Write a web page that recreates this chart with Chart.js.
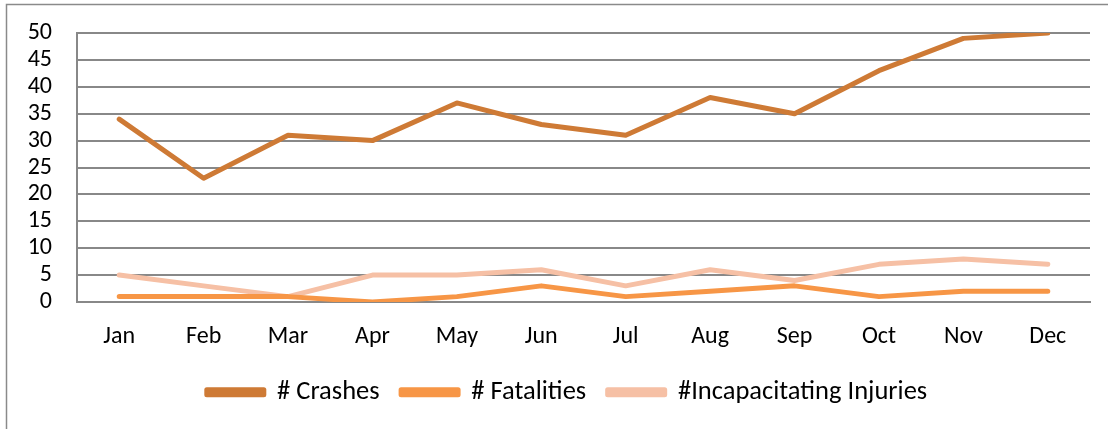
<!DOCTYPE html>
<html>
<head>
<meta charset="utf-8">
<script src="https://cdn.jsdelivr.net/npm/chart.js@4/dist/chart.umd.min.js"></script>
<style>
  html, body { margin: 0; padding: 0; background: #fff; }
  #wrap { width: 1108px; height: 429px; position: relative; }
</style>
</head>
<body>
<div id="wrap"><canvas id="chart" width="1108" height="429"></canvas></div>
<script>
// months on the x axis
var months = ['Jan', 'Feb', 'Mar', 'Apr', 'May', 'Jun', 'Jul', 'Aug', 'Sep', 'Oct', 'Nov', 'Dec'];
// series
var crashes = [34, 23, 31, 30, 37, 33, 31, 38, 35, 43, 49, 50];
var fatalities = [1, 1, 1, 0, 1, 3, 1, 2, 3, 1, 2, 2];
var injuries = [5, 3, 1, 5, 5, 6, 3, 6, 4, 7, 8, 7];

var fontStack = 'Carlito, Calibri, "Liberation Sans", sans-serif';

// light frame round the whole chart, like the office export
var framePlugin = {
  id: 'frame',
  beforeDraw: function (chart) {
    var c = chart.ctx;
    c.save();
    c.strokeStyle = '#8a8a8a';
    c.lineWidth = 1.5;
    c.strokeRect(6.5, 4.5, 1200, 600);
    c.restore();
  },
  // the legend sits a bit right of the canvas centre in the original
  afterLayout: function (chart) {
    if (chart.legend) {
      chart.legend.left += 22;
      chart.legend.right += 22;
    }
  }
};

function lineSet(label, data, color) {
  return {
    label: label,
    data: data,
    borderColor: color,
    backgroundColor: color,
    borderWidth: 5,
    pointRadius: 0,
    pointHoverRadius: 0,
    tension: 0,
    borderCapStyle: 'round',
    borderJoinStyle: 'round'
  };
}

new Chart(document.getElementById('chart'), {
  type: 'line',
  data: {
    labels: months,
    datasets: [
      lineSet('# Crashes', crashes, '#ce7a35'),
      lineSet('# Fatalities', fatalities, '#f79646'),
      lineSet('#Incapacitating Injuries', injuries, '#f6c0a5')
    ]
  },
  options: {
    responsive: false,
    animation: false,
    layout: { padding: { left: 0, right: 18, top: 33, bottom: 13.5 } },
    plugins: {
      tooltip: { enabled: false },
      legend: {
        position: 'bottom',
        labels: {
          color: '#000',
          font: { family: fontStack, size: 26.5 },
          boxWidth: 57,
          boxHeight: 5,
          padding: 21.5
        }
      }
    },
    scales: {
      x: {
        offset: true,
        grid: { display: false, drawTicks: false },
        border: { display: true, color: '#888', width: 2 },
        ticks: { color: '#000', font: { family: fontStack, size: 24 }, padding: 21, maxRotation: 0 },
        afterFit: function (s) { s.height = 55.5; s.paddingLeft = 0; s.paddingRight = 0; }
      },
      y: {
        min: 0,
        max: 50,
        ticks: { stepSize: 5, autoSkip: false, color: '#000', font: { family: fontStack, size: 24 }, padding: 25 },
        grid: { color: '#888', lineWidth: 2, drawTicks: false },
        border: { display: true, color: '#888', width: 2 },
        afterFit: function (s) { s.width = 77; s.paddingTop = 0; s.paddingBottom = 0; }
      }
    }
  },
  plugins: [framePlugin]
});
</script>
</body>
</html>
